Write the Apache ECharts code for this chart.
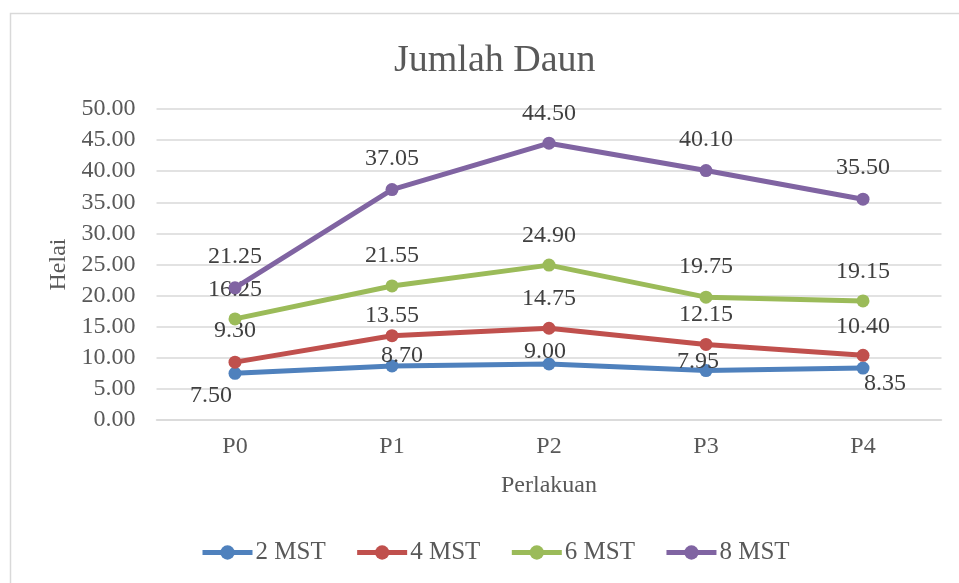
<!DOCTYPE html>
<html>
<head>
<meta charset="utf-8">
<script src="https://cdn.jsdelivr.net/npm/echarts@6/dist/echarts.min.js"></script>
<style>
html,body{margin:0;padding:0;background:#fff;}
#chart{width:959px;height:583px;}
</style>
</head>
<body>
<div id="chart"></div>
<script>
const categories = ['P0', 'P1', 'P2', 'P3', 'P4'];
const seriesNames = ['2 MST', '4 MST', '6 MST', '8 MST'];
const mst2 = [7.50, 8.70, 9.00, 7.95, 8.35];
const mst4 = [9.30, 13.55, 14.75, 12.15, 10.40];
const mst6 = [16.25, 21.55, 24.90, 19.75, 19.15];
const mst8 = [21.25, 37.05, 44.50, 40.10, 35.50];
const yTicks = { min: 0, max: 50, interval: 5 };

// styling: label offsets relative to each point (px)
const labelOffsets = [
  [[-24, 22], [10, -10], [-4, -12], [-8, -9], [22, 16]],
  [[0, -31], [0, -20], [0, -30], [0, -30], [0, -29]],
  [[0, -29], [0, -30], [0, -29], [0, -30], [0, -29]],
  [[0, -31], [0, -31], [0, -30], [0, -31], [0, -31]]
];
const colors = ['#4F81BD', '#C0504D', '#9BBB59', '#8064A2'];
const FONT = '"Liberation Serif", "Times New Roman", serif';

const allData = [mst2, mst4, mst6, mst8];
const series = allData.map((vals, si) => ({
  name: seriesNames[si],
  type: 'line',
  data: vals.map((v, i) => ({
    value: v,
    label: { offset: labelOffsets[si][i] }
  })),
  symbol: 'circle',
  symbolSize: 13,
  lineStyle: { width: 5, color: colors[si] },
  itemStyle: { color: colors[si] },
  label: {
    show: true,
    position: 'inside',
    color: '#404040',
    fontFamily: FONT,
    fontSize: 24,
    formatter: p => p.value.toFixed(2)
  },
  emphasis: { disabled: true },
  animation: false,
  z: 2 + si
}));

const chart = echarts.init(document.getElementById('chart'), null, { renderer: 'canvas' });
chart.setOption({
  backgroundColor: '#ffffff',
  animation: false,
  color: colors,
  graphic: [{
    type: 'rect',
    shape: { x: 10.5, y: 13.5, width: 1200, height: 1000 },
    style: { fill: 'none', stroke: '#d9d9d9', lineWidth: 1.5 },
    silent: true
  }],
  title: {
    text: 'Jumlah Daun',
    left: 389,
    top: 37,
    textStyle: { fontFamily: FONT, fontSize: 38, fontWeight: 'normal', color: '#595959' }
  },
  legend: {
    data: seriesNames,
    bottom: 13,
    left: 195,
    itemWidth: 50,
    itemHeight: 18,
    itemGap: 29,
    lineStyle: { width: 5 },
    textStyle: { fontFamily: FONT, fontSize: 25, color: '#595959', padding: [0, 0, 0, -2] }
  },
  grid: { left: 156.5, right: 17.5, top: 109, bottom: 163 },
  xAxis: {
    type: 'category',
    data: categories,
    boundaryGap: true,
    name: 'Perlakuan',
    nameLocation: 'middle',
    nameGap: 54,
    nameTextStyle: { fontFamily: FONT, fontSize: 24, color: '#595959' },
    axisLine: { show: true, lineStyle: { color: '#d9d9d9', width: 1.5 } },
    axisTick: { show: false },
    axisLabel: { fontFamily: FONT, fontSize: 24, color: '#595959', margin: 15 }
  },
  yAxis: {
    type: 'value',
    min: yTicks.min,
    max: yTicks.max,
    interval: yTicks.interval,
    name: 'Helai',
    nameLocation: 'middle',
    nameGap: 79,
    nameTextStyle: { fontFamily: FONT, fontSize: 24, color: '#595959' },
    axisLine: { show: false },
    axisTick: { show: false },
    splitLine: { lineStyle: { color: '#d9d9d9', width: 1.5 } },
    axisLabel: { fontFamily: FONT, fontSize: 24, color: '#595959', margin: 21, formatter: v => v.toFixed(2) }
  },
  series: series
});
</script>
</body>
</html>
